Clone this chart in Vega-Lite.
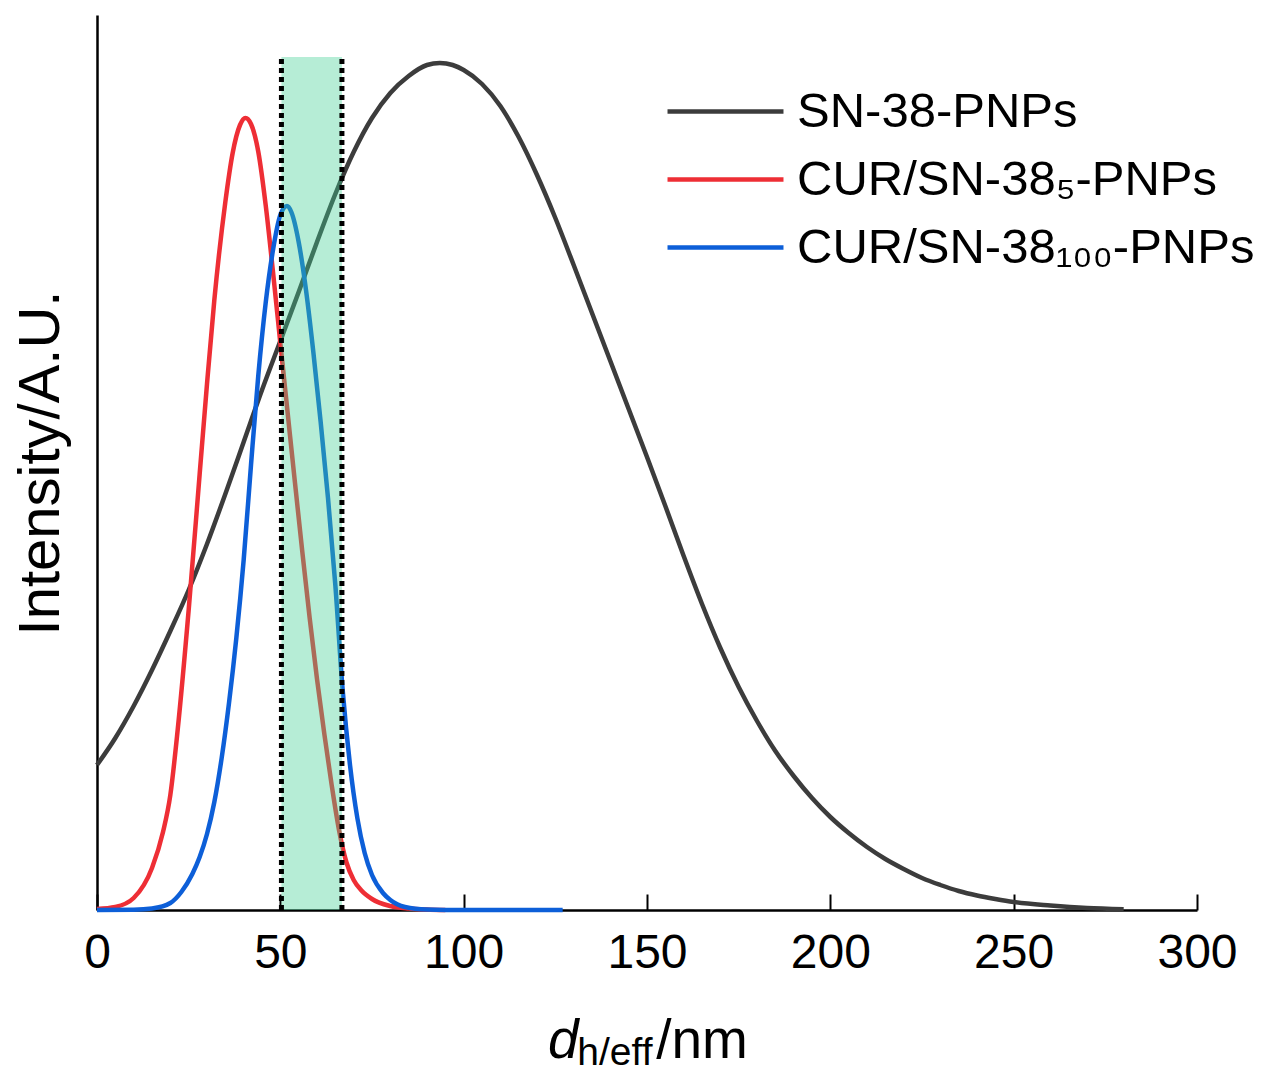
{
  "$schema": "https://vega.github.io/schema/vega-lite/v6.json",
  "width": 1100,
  "height": 895,
  "autosize": {"type": "none"},
  "padding": {"left": 97, "top": 15, "right": 70, "bottom": 164},
  "background": "white",
  "config": {"font": "Liberation Sans", "view": {"stroke": null}},
  "datasets": {
    "curves": [
      {"sample": "SN-38-PNPs", "d": 0, "intensity": 145},
      {"sample": "SN-38-PNPs", "d": 5, "intensity": 172},
      {"sample": "SN-38-PNPs", "d": 10, "intensity": 204},
      {"sample": "SN-38-PNPs", "d": 15, "intensity": 240},
      {"sample": "SN-38-PNPs", "d": 20, "intensity": 279},
      {"sample": "SN-38-PNPs", "d": 25, "intensity": 320},
      {"sample": "SN-38-PNPs", "d": 30, "intensity": 366},
      {"sample": "SN-38-PNPs", "d": 35, "intensity": 416},
      {"sample": "SN-38-PNPs", "d": 40, "intensity": 468},
      {"sample": "SN-38-PNPs", "d": 45, "intensity": 520},
      {"sample": "SN-38-PNPs", "d": 50, "intensity": 569},
      {"sample": "SN-38-PNPs", "d": 55, "intensity": 618},
      {"sample": "SN-38-PNPs", "d": 60, "intensity": 668},
      {"sample": "SN-38-PNPs", "d": 65, "intensity": 716},
      {"sample": "SN-38-PNPs", "d": 70, "intensity": 758},
      {"sample": "SN-38-PNPs", "d": 75, "intensity": 792},
      {"sample": "SN-38-PNPs", "d": 80, "intensity": 817},
      {"sample": "SN-38-PNPs", "d": 85, "intensity": 834},
      {"sample": "SN-38-PNPs", "d": 90, "intensity": 845},
      {"sample": "SN-38-PNPs", "d": 93.5, "intensity": 847},
      {"sample": "SN-38-PNPs", "d": 97, "intensity": 845},
      {"sample": "SN-38-PNPs", "d": 100, "intensity": 840},
      {"sample": "SN-38-PNPs", "d": 105, "intensity": 826},
      {"sample": "SN-38-PNPs", "d": 110, "intensity": 804},
      {"sample": "SN-38-PNPs", "d": 115, "intensity": 773},
      {"sample": "SN-38-PNPs", "d": 120, "intensity": 735},
      {"sample": "SN-38-PNPs", "d": 125, "intensity": 692},
      {"sample": "SN-38-PNPs", "d": 130, "intensity": 645},
      {"sample": "SN-38-PNPs", "d": 135, "intensity": 597},
      {"sample": "SN-38-PNPs", "d": 140, "intensity": 549},
      {"sample": "SN-38-PNPs", "d": 145, "intensity": 501},
      {"sample": "SN-38-PNPs", "d": 150, "intensity": 453},
      {"sample": "SN-38-PNPs", "d": 155, "intensity": 404},
      {"sample": "SN-38-PNPs", "d": 160, "intensity": 354},
      {"sample": "SN-38-PNPs", "d": 165, "intensity": 306},
      {"sample": "SN-38-PNPs", "d": 170, "intensity": 262},
      {"sample": "SN-38-PNPs", "d": 175, "intensity": 223},
      {"sample": "SN-38-PNPs", "d": 180, "intensity": 189},
      {"sample": "SN-38-PNPs", "d": 185, "intensity": 159},
      {"sample": "SN-38-PNPs", "d": 190, "intensity": 134},
      {"sample": "SN-38-PNPs", "d": 195, "intensity": 112},
      {"sample": "SN-38-PNPs", "d": 200, "intensity": 93},
      {"sample": "SN-38-PNPs", "d": 205, "intensity": 77},
      {"sample": "SN-38-PNPs", "d": 210, "intensity": 63},
      {"sample": "SN-38-PNPs", "d": 215, "intensity": 51},
      {"sample": "SN-38-PNPs", "d": 220, "intensity": 41},
      {"sample": "SN-38-PNPs", "d": 225, "intensity": 32},
      {"sample": "SN-38-PNPs", "d": 230, "intensity": 25},
      {"sample": "SN-38-PNPs", "d": 235, "intensity": 19},
      {"sample": "SN-38-PNPs", "d": 240, "intensity": 14.5},
      {"sample": "SN-38-PNPs", "d": 245, "intensity": 11},
      {"sample": "SN-38-PNPs", "d": 250, "intensity": 8},
      {"sample": "SN-38-PNPs", "d": 260, "intensity": 4.5},
      {"sample": "SN-38-PNPs", "d": 270, "intensity": 2},
      {"sample": "SN-38-PNPs", "d": 280, "intensity": 0.8},
      {"sample": "CUR/SN-38₅-PNPs", "d": 0, "intensity": 1},
      {"sample": "CUR/SN-38₅-PNPs", "d": 5, "intensity": 3},
      {"sample": "CUR/SN-38₅-PNPs", "d": 10, "intensity": 12},
      {"sample": "CUR/SN-38₅-PNPs", "d": 15, "intensity": 42},
      {"sample": "CUR/SN-38₅-PNPs", "d": 18, "intensity": 78},
      {"sample": "CUR/SN-38₅-PNPs", "d": 20, "intensity": 115},
      {"sample": "CUR/SN-38₅-PNPs", "d": 22, "intensity": 180},
      {"sample": "CUR/SN-38₅-PNPs", "d": 25, "intensity": 300},
      {"sample": "CUR/SN-38₅-PNPs", "d": 28, "intensity": 436},
      {"sample": "CUR/SN-38₅-PNPs", "d": 30, "intensity": 526},
      {"sample": "CUR/SN-38₅-PNPs", "d": 32, "intensity": 610},
      {"sample": "CUR/SN-38₅-PNPs", "d": 35, "intensity": 708},
      {"sample": "CUR/SN-38₅-PNPs", "d": 37, "intensity": 757},
      {"sample": "CUR/SN-38₅-PNPs", "d": 39, "intensity": 785},
      {"sample": "CUR/SN-38₅-PNPs", "d": 40.5, "intensity": 792},
      {"sample": "CUR/SN-38₅-PNPs", "d": 42, "intensity": 786},
      {"sample": "CUR/SN-38₅-PNPs", "d": 44, "intensity": 758},
      {"sample": "CUR/SN-38₅-PNPs", "d": 46, "intensity": 705},
      {"sample": "CUR/SN-38₅-PNPs", "d": 48, "intensity": 638},
      {"sample": "CUR/SN-38₅-PNPs", "d": 50, "intensity": 567},
      {"sample": "CUR/SN-38₅-PNPs", "d": 52, "intensity": 497},
      {"sample": "CUR/SN-38₅-PNPs", "d": 54, "intensity": 427},
      {"sample": "CUR/SN-38₅-PNPs", "d": 56, "intensity": 358},
      {"sample": "CUR/SN-38₅-PNPs", "d": 58, "intensity": 292},
      {"sample": "CUR/SN-38₅-PNPs", "d": 60, "intensity": 231},
      {"sample": "CUR/SN-38₅-PNPs", "d": 62, "intensity": 176},
      {"sample": "CUR/SN-38₅-PNPs", "d": 64, "intensity": 125},
      {"sample": "CUR/SN-38₅-PNPs", "d": 66, "intensity": 80},
      {"sample": "CUR/SN-38₅-PNPs", "d": 68, "intensity": 48},
      {"sample": "CUR/SN-38₅-PNPs", "d": 70, "intensity": 30},
      {"sample": "CUR/SN-38₅-PNPs", "d": 72, "intensity": 20},
      {"sample": "CUR/SN-38₅-PNPs", "d": 75, "intensity": 11},
      {"sample": "CUR/SN-38₅-PNPs", "d": 80, "intensity": 4},
      {"sample": "CUR/SN-38₅-PNPs", "d": 85, "intensity": 1.5},
      {"sample": "CUR/SN-38₅-PNPs", "d": 90, "intensity": 0.5},
      {"sample": "CUR/SN-38₅-PNPs", "d": 95, "intensity": 0},
      {"sample": "CUR/SN-38₁₀₀-PNPs", "d": 0, "intensity": 0},
      {"sample": "CUR/SN-38₁₀₀-PNPs", "d": 10, "intensity": 0.3},
      {"sample": "CUR/SN-38₁₀₀-PNPs", "d": 15, "intensity": 1.5},
      {"sample": "CUR/SN-38₁₀₀-PNPs", "d": 20, "intensity": 7},
      {"sample": "CUR/SN-38₁₀₀-PNPs", "d": 23, "intensity": 18},
      {"sample": "CUR/SN-38₁₀₀-PNPs", "d": 26, "intensity": 36},
      {"sample": "CUR/SN-38₁₀₀-PNPs", "d": 28, "intensity": 53},
      {"sample": "CUR/SN-38₁₀₀-PNPs", "d": 30, "intensity": 76},
      {"sample": "CUR/SN-38₁₀₀-PNPs", "d": 32, "intensity": 108},
      {"sample": "CUR/SN-38₁₀₀-PNPs", "d": 34, "intensity": 152},
      {"sample": "CUR/SN-38₁₀₀-PNPs", "d": 36, "intensity": 207},
      {"sample": "CUR/SN-38₁₀₀-PNPs", "d": 38, "intensity": 272},
      {"sample": "CUR/SN-38₁₀₀-PNPs", "d": 40, "intensity": 350},
      {"sample": "CUR/SN-38₁₀₀-PNPs", "d": 42, "intensity": 445},
      {"sample": "CUR/SN-38₁₀₀-PNPs", "d": 44, "intensity": 535},
      {"sample": "CUR/SN-38₁₀₀-PNPs", "d": 46, "intensity": 607},
      {"sample": "CUR/SN-38₁₀₀-PNPs", "d": 48, "intensity": 660},
      {"sample": "CUR/SN-38₁₀₀-PNPs", "d": 50, "intensity": 695},
      {"sample": "CUR/SN-38₁₀₀-PNPs", "d": 51.8, "intensity": 704},
      {"sample": "CUR/SN-38₁₀₀-PNPs", "d": 53, "intensity": 698},
      {"sample": "CUR/SN-38₁₀₀-PNPs", "d": 55, "intensity": 668},
      {"sample": "CUR/SN-38₁₀₀-PNPs", "d": 57, "intensity": 620},
      {"sample": "CUR/SN-38₁₀₀-PNPs", "d": 59, "intensity": 558},
      {"sample": "CUR/SN-38₁₀₀-PNPs", "d": 61, "intensity": 488},
      {"sample": "CUR/SN-38₁₀₀-PNPs", "d": 63, "intensity": 412},
      {"sample": "CUR/SN-38₁₀₀-PNPs", "d": 65, "intensity": 325},
      {"sample": "CUR/SN-38₁₀₀-PNPs", "d": 67, "intensity": 220},
      {"sample": "CUR/SN-38₁₀₀-PNPs", "d": 69, "intensity": 145},
      {"sample": "CUR/SN-38₁₀₀-PNPs", "d": 71, "intensity": 92},
      {"sample": "CUR/SN-38₁₀₀-PNPs", "d": 73, "intensity": 57},
      {"sample": "CUR/SN-38₁₀₀-PNPs", "d": 75, "intensity": 35},
      {"sample": "CUR/SN-38₁₀₀-PNPs", "d": 78, "intensity": 17},
      {"sample": "CUR/SN-38₁₀₀-PNPs", "d": 80, "intensity": 10},
      {"sample": "CUR/SN-38₁₀₀-PNPs", "d": 84, "intensity": 3},
      {"sample": "CUR/SN-38₁₀₀-PNPs", "d": 90, "intensity": 0.5},
      {"sample": "CUR/SN-38₁₀₀-PNPs", "d": 100, "intensity": 0},
      {"sample": "CUR/SN-38₁₀₀-PNPs", "d": 127, "intensity": 0}
    ],
    "band": [{"start": 50.3, "end": 66.8, "low": 0, "high": 853}],
    "bounds": [{"d": 50.3, "low": 0, "high": 853}, {"d": 66.8, "low": 0, "high": 853}]
  },
  "layer": [
    {
      "data": {"name": "curves"},
      "mark": {"type": "line", "strokeWidth": 4.5, "interpolate": "monotone"},
      "encoding": {
        "x": {
          "field": "d", "type": "quantitative",
          "scale": {"domain": [0, 300], "nice": false, "zero": false},
          "axis": {
            "values": [0, 50, 100, 150, 200, 250, 300],
            "title": null, "grid": false,
            "tickSize": -16, "tickWidth": 2, "tickColor": "black",
            "domainColor": "black", "domainWidth": 2.5,
            "labelFontSize": 48, "labelColor": "black", "labelPadding": 35,
            "labelFlush": false, "labelOverlap": false
          }
        },
        "y": {
          "field": "intensity", "type": "quantitative",
          "scale": {"domain": [0, 895], "nice": false},
          "axis": {
            "ticks": false, "labels": false, "grid": false,
            "domainColor": "black", "domainWidth": 2.5,
            "title": "Intensity/A.U.", "titleFontSize": 58, "titleFontWeight": "normal",
            "titleColor": "black", "titlePadding": 27
          }
        },
        "color": {
          "field": "sample", "type": "nominal",
          "scale": {
            "domain": ["SN-38-PNPs", "CUR/SN-38₅-PNPs", "CUR/SN-38₁₀₀-PNPs"],
            "range": ["#3c3c3c", "#ee2e35", "#0d5fd8"]
          },
          "legend": {
            "orient": "none", "legendX": 604, "legendY": 72,
            "title": null, "padding": 0,
            "symbolType": "M-5,0H5", "symbolSize": 538, "symbolStrokeWidth": 4.5,
            "labelFontSize": 49, "labelColor": "black", "labelOffset": 47,
            "labelLimit": 700, "rowPadding": 18
          }
        }
      }
    },
    {
      "data": {"name": "band"},
      "mark": {"type": "rect", "color": "#3fcf92", "opacity": 0.38},
      "encoding": {
        "x": {"field": "start", "type": "quantitative"},
        "x2": {"field": "end"},
        "y": {"field": "low", "type": "quantitative"},
        "y2": {"field": "high"}
      }
    },
    {
      "data": {"name": "bounds"},
      "mark": {"type": "rule", "color": "black", "strokeWidth": 5, "strokeDash": [5, 4]},
      "encoding": {
        "x": {"field": "d", "type": "quantitative"},
        "y": {"field": "low", "type": "quantitative"},
        "y2": {"field": "high"}
      }
    },
    {
      "data": {"values": [{"t": "d"}]},
      "mark": {"type": "text", "fontSize": 55, "fontStyle": "italic", "align": "left", "baseline": "alphabetic", "color": "black"},
      "encoding": {"x": {"datum": 123}, "y": {"datum": -148}, "text": {"field": "t"}}
    },
    {
      "data": {"values": [{"t": "h/eff"}]},
      "mark": {"type": "text", "fontSize": 39, "align": "left", "baseline": "alphabetic", "color": "black"},
      "encoding": {"x": {"datum": 131}, "y": {"datum": -155}, "text": {"field": "t"}}
    },
    {
      "data": {"values": [{"t": "/nm"}]},
      "mark": {"type": "text", "fontSize": 55, "align": "left", "baseline": "alphabetic", "color": "black"},
      "encoding": {"x": {"datum": 152.5}, "y": {"datum": -148}, "text": {"field": "t"}}
    }
  ]
}
